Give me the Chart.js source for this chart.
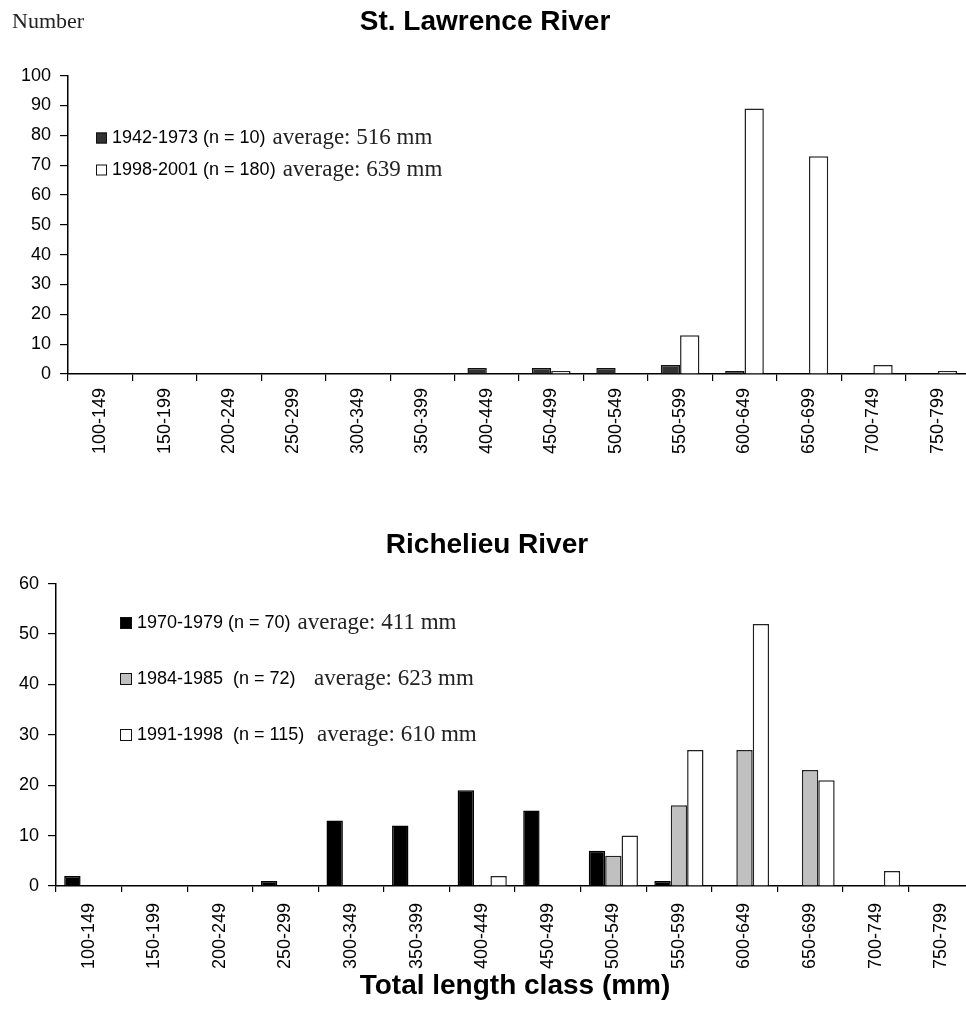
<!DOCTYPE html>
<html>
<head>
<meta charset="utf-8">
<script src="https://cdn.jsdelivr.net/npm/chart.js@4.4.1/dist/chart.umd.min.js"></script>
<style>
  html, body { margin: 0; padding: 0; background: #fff; overflow: hidden; }
  .box { position: absolute; left: 0; width: 975px; }
</style>
</head>
<body>
<div class="box" style="top:0; height:470px;"><canvas id="chartTop"></canvas></div>
<div class="box" style="top:520px; height:493px;"><canvas id="chartBottom"></canvas></div>
<script>
const lengthClasses = ["100-149", "150-199", "200-249", "250-299", "300-349", "350-399", "400-449",
    "450-499", "500-549", "550-599", "600-649", "650-699", "700-749", "750-799"];

// St. Lawrence River
const stLawrence1942 = [0, 0, 0, 0, 0, 0, 2, 2, 2, 3, 1, 0, 0, 0];
const stLawrence1998 = [0, 0, 0, 0, 0, 0, 0, 1, 0, 13, 89, 73, 3, 1];
const stLawrenceLabels = ["1942-1973 (n = 10)", "1998-2001 (n = 180)"];
const stLawrenceAverages = ["average: 516 mm", "average: 639 mm"];
const stLawrenceTicks = [0, 10, 20, 30, 40, 50, 60, 70, 80, 90, 100];

// Richelieu River
const richelieu1970 = [2, 0, 0, 1, 13, 12, 19, 15, 7, 1, 0, 0, 0, 0];
const richelieu1984 = [0, 0, 0, 0, 0, 0, 0, 0, 6, 16, 27, 23, 0, 0];
const richelieu1991 = [0, 0, 0, 0, 0, 0, 2, 0, 10, 27, 52, 21, 3, 0];
const richelieuLabels = ["1970-1979 (n = 70)", "1984-1985  (n = 72)", "1991-1998  (n = 115)"];
const richelieuAverages = ["average: 411 mm", "  average: 623 mm", " average: 610 mm"];
const richelieuTicks = [0, 10, 20, 30, 40, 50, 60];

const sans = "Liberation Sans";
const serif = "Liberation Serif";

// legend drawn as text inside the plot, like the original figure
const textLegend = {
    id: "textLegend",
    afterDraw(chart, args, opts) {
        const ctx = chart.ctx;
        ctx.save();
        ctx.textBaseline = "middle";
        opts.labels.forEach((label, i) => {
            const y = opts.y + i * opts.step;
            ctx.fillStyle = opts.colors[i];
            ctx.fillRect(opts.x, y - opts.size / 2, opts.size, opts.size);
            ctx.strokeStyle = "#111";
            ctx.lineWidth = 1;
            ctx.strokeRect(opts.x + 0.5, y - opts.size / 2 + 0.5, opts.size - 1, opts.size - 1);
            ctx.fillStyle = "#000";
            ctx.font = "18px '" + sans + "'";
            const tx = opts.x + opts.size + 5;
            ctx.fillText(label, tx, y);
            const w = ctx.measureText(label).width;
            ctx.fillStyle = "#222";
            ctx.font = "23px '" + serif + "'";
            ctx.fillText(opts.averages[i], tx + w + 7, y);
        });
        if (opts.yLabel) {
            ctx.fillStyle = "#222";
            ctx.font = "22px '" + serif + "'";
            ctx.textBaseline = "alphabetic";
            ctx.fillText(opts.yLabel, 12, 28);
        }
        ctx.restore();
    },
};

function barScales(yMax, yTicks, yWidth, xHeight, tickLen, labelPad, xTitle) {
    return {
        x: {
            afterFit: (s) => { s.height = xHeight; },
            grid: { display: true, drawOnChartArea: false, drawTicks: true, tickLength: tickLen, color: "#000", lineWidth: 1.2, offset: true },
            border: { display: true, color: "#000", width: 1.5 },
            ticks: { color: "#000", font: { family: sans, size: 18 }, minRotation: 90, maxRotation: 90, padding: labelPad, autoSkip: false },
            title: xTitle
                ? { display: true, text: xTitle, color: "#000", font: { family: sans, size: 28, weight: "bold" }, padding: { top: 0, bottom: 10 } }
                : { display: false },
        },
        y: {
            min: 0,
            max: yMax,
            afterFit: (s) => { s.width = yWidth; },
            afterBuildTicks: (s) => { s.ticks = yTicks.map((v) => ({ value: v })); },
            grid: { display: true, drawOnChartArea: false, drawTicks: true, tickLength: 8, color: "#000", lineWidth: 1.2 },
            border: { display: true, color: "#000", width: 1.5 },
            ticks: { color: "#000", font: { family: sans, size: 18 }, padding: 9 },
        },
    };
}

const ctx1 = document.getElementById("chartTop").getContext("2d");
const ctx2 = document.getElementById("chartBottom").getContext("2d");

const chartTop = new Chart(ctx1, {
    type: "bar",
    data: {
        labels: lengthClasses,
        datasets: [
            { label: stLawrenceLabels[0], data: stLawrence1942, backgroundColor: "#333333", borderColor: "#111", borderWidth: 1.5 },
            { label: stLawrenceLabels[1], data: stLawrence1998, backgroundColor: "#ffffff", borderColor: "#222", borderWidth: 1.5 },
        ],
    },
    options: {
        responsive: true,
        maintainAspectRatio: false,
        animation: false,
        layout: { padding: { left: 0, right: 5, top: 0, bottom: 0 } },
        datasets: { bar: { categoryPercentage: 0.6, barPercentage: 1.0 } },
        scales: barScales(100, stLawrenceTicks, 68, 96, 7, 7, null),
        plugins: {
            legend: { display: false },
            tooltip: { enabled: false },
            title: {
                display: true,
                text: "St. Lawrence River",
                color: "#000",
                font: { family: sans, size: 28, weight: "bold" },
                padding: { top: 5, bottom: 37 },
            },
            textLegend: {
                x: 96, y: 138, step: 32, size: 11,
                colors: ["#333333", "#ffffff"],
                labels: stLawrenceLabels,
                averages: stLawrenceAverages,
                yLabel: "Number",
            },
        },
    },
    plugins: [textLegend],
});

const chartBottom = new Chart(ctx2, {
    type: "bar",
    data: {
        labels: lengthClasses,
        datasets: [
            { label: richelieuLabels[0], data: richelieu1970, backgroundColor: "#000000", borderColor: "#000", borderWidth: 1.5 },
            { label: richelieuLabels[1], data: richelieu1984, backgroundColor: "#c0c0c0", borderColor: "#222", borderWidth: 1.5 },
            { label: richelieuLabels[2], data: richelieu1991, backgroundColor: "#ffffff", borderColor: "#222", borderWidth: 1.5 },
        ],
    },
    options: {
        responsive: true,
        maintainAspectRatio: false,
        animation: false,
        layout: { padding: { left: 0, right: 1, top: 0, bottom: 0 } },
        datasets: { bar: { categoryPercentage: 0.75, barPercentage: 1.0 } },
        scales: barScales(60, richelieuTicks, 56, 127, 6, 11, "Total length class (mm)"),
        plugins: {
            legend: { display: false },
            tooltip: { enabled: false },
            title: {
                display: true,
                text: "Richelieu River",
                color: "#000",
                font: { family: sans, size: 28, weight: "bold" },
                padding: { top: 8, bottom: 22 },
            },
            textLegend: {
                x: 120, y: 103, step: 56, size: 12,
                colors: ["#000000", "#c0c0c0", "#ffffff"],
                labels: richelieuLabels,
                averages: richelieuAverages,
            },
        },
    },
    plugins: [textLegend],
});
</script>
</body>
</html>
